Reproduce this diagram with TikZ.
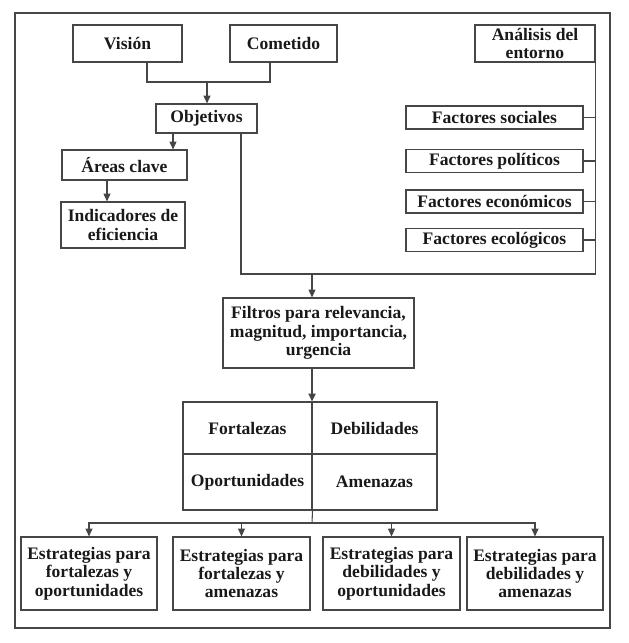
\documentclass[tikz,border=0pt]{standalone}
\usepackage{fontspec}
\setmainfont{Liberation Serif}
\usetikzlibrary{positioning,calc,arrows.meta}
\definecolor{lineGray}{RGB}{70,70,70}
\definecolor{textBlack}{RGB}{25,25,25}

\tikzset{
  box/.style={draw=lineGray, line width=0.6pt, inner sep=1pt, align=center,
    font=\fontsize{10}{10.5}\selectfont\bfseries, text=textBlack},
  sz/.style 2 args={minimum width=#1*0.02cm, minimum height=#2*0.02cm},
  link/.style={draw=lineGray, line width=0.6pt},
  arr/.style={link, -{Triangle[length=4.5pt,width=4pt]}},
}

\begin{document}
\begin{tikzpicture}[x=0.02cm,y=-0.02cm]
\useasboundingbox (0,0) rectangle (629,643);
% outer frame
\draw[lineGray, line width=0.9pt] (15,13) rectangle (610,628);

% mission side
\node[box, sz={109}{37}] (vision) at (127.5,43.5) {Visión};
\node[box, sz={107}{37}] (cometido) at (283.5,43.5) {Cometido};
\node[box, sz={101}{29}] (objetivos) at (206.5,118.5) {Objetivos};
\node[box, sz={125}{30}] (areas) at (124.5,165) {Áreas clave};
\node[box, sz={124}{46}] (indicadores) at (123,225) {Indicadores de\\eficiencia};

% environment side
\node[box, sz={120}{37}] (analisis) at (535,43.5) {Análisis del\\entorno};
\foreach \y/\name/\txt in {117.5/soc/Factores sociales, 161/pol/Factores políticos,
    201.5/eco/Factores económicos, 240/ecol/Factores ecológicos} {
  \node[box, sz={177}{23}] (f\name) at (494.5,\y) {\txt};
}

% filters and SWOT
\node[box, sz={191}{70}] (filtros) at (318.5,333) {Filtros para relevancia,\\magnitud, importancia,\\urgencia};
\node[box, sz={129}{52}] (fort) at (247.5,428) {Fortalezas};
\node[box, sz={125}{52}] (deb) at (374.5,428) {Debilidades};
\node[box, sz={129}{56}] (oport) at (247.5,482) {Oportunidades};
\node[box, sz={125}{56}] (amen) at (374.5,482) {Amenazas};

% strategies
\foreach \x/\w/\name/\txt in {89/136/s1/{Estrategias para\\fortalezas y\\oportunidades},
    241.5/137/s2/{Estrategias para\\fortalezas y\\amenazas},
    391.5/137/s3/{Estrategias para\\debilidades y\\oportunidades},
    535/136/s4/{Estrategias para\\debilidades y\\amenazas}} {
  \node[box, sz={\w}{73}] (\name) at (\x,573.5) {\txt};
}

% connectors
\coordinate (join) at (207,82);
\draw[link] ($(vision.south)+(19.5,0)$) |- (join) -| ($(cometido.south)+(-13.5,0)$);
\draw[arr] (join) -- (join |- objetivos.north);
\draw[arr] ($(objetivos.south)+(-33.5,0)$) coordinate (oa) -- (oa |- areas.north);
\draw[arr] ($(areas.south)+(-17.5,0)$) coordinate (ai) -- (ai |- indicadores.north);

\coordinate (merge) at (312,274);
\draw[link] ($(objetivos.south)+(34.5,0)$) |- (merge);
\draw[link] (analisis.south east) |- (merge);
\foreach \name in {soc,pol,eco,ecol}
  \draw[link] (f\name.east) -- (f\name.east -| analisis.east);
\draw[arr] (merge) -- (merge |- filtros.north);
\draw[arr, line width=1.3pt] (merge |- filtros.south) -- (merge |- fort.north);

\coordinate (split) at (312,523);
\draw[link] (oport.south east) -- (split);
\foreach \name in {s1,s2,s3,s4}
  \draw[arr] (split) -| (\name.north);
\end{tikzpicture}
\end{document}
